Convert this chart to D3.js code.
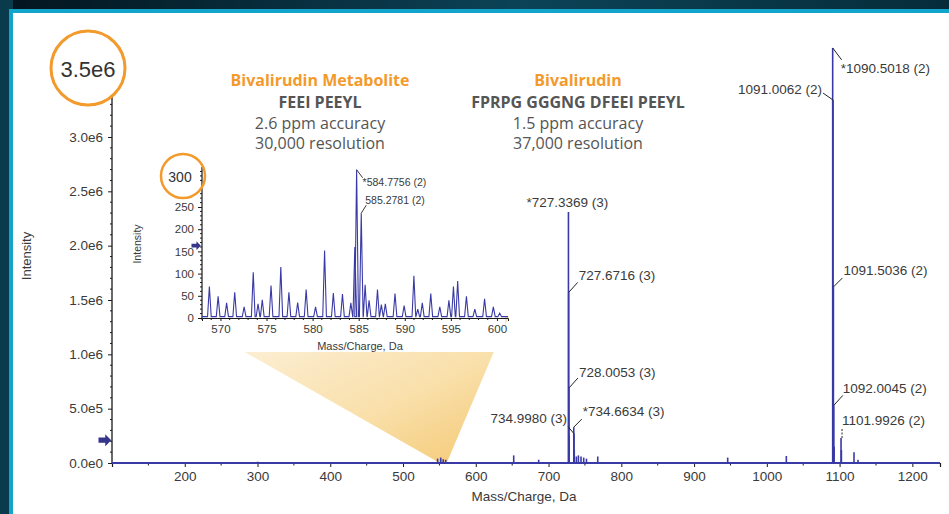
<!DOCTYPE html>
<html>
<head>
<meta charset="utf-8">
<script src="https://cdn.jsdelivr.net/npm/d3@7"></script>
<style>
  html, body { margin: 0; padding: 0; background: #ffffff; overflow: hidden; }
  svg { display: block; }
</style>
</head>
<body>
<svg id="chart" width="949" height="514"></svg>
<script>
// ---- Main spectrum: bivalirudin (m/z, intensity) ----
const mainMz = [300.2, 547.5, 551.8, 555.2, 558.6, 652.1, 686.4, 727.3369, 727.6716, 728.0053, 728.34,
  734.6634, 734.9980, 735.33, 738.2, 741.0, 744.6, 748.3, 752.1, 767.6, 946.2, 1026.8,
  1090.5018, 1091.0062, 1091.5036, 1092.0045, 1092.50, 1101.9926, 1102.49, 1119.8, 1125.3];
const mainIntensity = [0.012e6, 0.04e6, 0.05e6, 0.035e6, 0.03e6, 0.07e6, 0.03e6, 2.31e6, 1.57e6, 0.69e6, 0.25e6,
  0.33e6, 0.27e6, 0.12e6, 0.06e6, 0.07e6, 0.06e6, 0.05e6, 0.04e6, 0.06e6, 0.05e6, 0.065e6,
  3.82e6, 3.34e6, 1.62e6, 0.53e6, 0.15e6, 0.23e6, 0.12e6, 0.10e6, 0.03e6];

// ---- Inset spectrum: bivalirudin metabolite, 568–601 Da ----
const insetMz = [568.8, 569.75, 570.67, 571.55, 572.57, 573.56, 574.08, 574.54, 575.49, 576.55,
  577.43, 578.38, 579.30, 580.32, 581.30, 582.25, 583.24, 584.15, 584.58, 584.7756, 585.2781,
  585.70, 586.13, 587.04, 587.46, 587.89, 588.94, 589.93, 590.99, 591.41, 591.90, 592.82,
  593.80, 594.79, 595.28, 595.74, 596.69, 597.60, 598.66, 599.61, 600.30];
const insetIntensity = [71, 49, 34, 58, 25, 103, 32, 41, 73, 115,
  58, 35, 64, 25, 152, 56, 54, 34, 160, 334, 236,
  75, 40, 64, 30, 32, 55, 28, 95, 20, 34, 55,
  25, 40, 71, 83, 49, 20, 43, 25, 11];

// ---- Axis ticks ----
const xTicks = [200, 300, 400, 500, 600, 700, 800, 900, 1000, 1100, 1200];
const yTicks = [0, 5e5, 1e6, 1.5e6, 2e6, 2.5e6, 3e6];
const yTickLabels = ["0.0e0", "5.0e5", "1.0e6", "1.5e6", "2.0e6", "2.5e6", "3.0e6"];
const yMaxLabel = "3.5e6";
const insetXTicks = [570, 575, 580, 585, 590, 595, 600];
const insetYTicks = [0, 50, 100, 150, 200, 250];
const insetMaxLabel = "300";

// ---- Peak annotations (text from m/z and charge) ----
const mainLabelMz = [727.3369, 727.6716, 728.0053, 734.6634, 734.9980, 1090.5018, 1091.0062, 1091.5036, 1092.0045, 1101.9926];
const mainLabelCharge = [3, 3, 3, 3, 3, 2, 2, 2, 2, 2];
const mainLabelStar = [true, false, false, true, false, true, false, false, false, false];
const insetLabelMz = [584.7756, 585.2781];
const insetLabelCharge = [2, 2];
const insetLabelStar = [true, false];

// ---- Header text ----
const headers = [
  { name: "Bivalirudin Metabolite", seq: "FEEI PEEYL", acc: "2.6 ppm accuracy", res: "30,000 resolution" },
  { name: "Bivalirudin", seq: "FPRPG GGGNG DFEEI PEEYL", acc: "1.5 ppm accuracy", res: "37,000 resolution" }
];

const W = 949, H = 514;
const svg = d3.select("#chart");
const BLUE = "#3a3aa6", ORANGE = "#f39a2c", AXIS = "#1a1a1a", TXT = "#3a3a3a";
const SANS = "'Liberation Sans', Arial, sans-serif";
const HEAD = "'Open Sans', 'Noto Sans', sans-serif";

// ---- Frame: dark backdrop, cyan rule, white panel ----
const defs = svg.append("defs");
const bg = defs.append("linearGradient").attr("id", "bg").attr("x1", 0).attr("x2", 1).attr("y1", 0).attr("y2", 0);
bg.append("stop").attr("offset", "0%").attr("stop-color", "#03141e");
bg.append("stop").attr("offset", "55%").attr("stop-color", "#0c4357");
bg.append("stop").attr("offset", "100%").attr("stop-color", "#062c3a");
svg.append("rect").attr("width", W).attr("height", 13).attr("fill", "url(#bg)");
svg.append("rect").attr("x", 0).attr("y", 0).attr("width", 13).attr("height", H).attr("fill", "#0a3b4c");
svg.append("rect").attr("x", 9).attr("y", 9).attr("width", W).attr("height", H).attr("fill", "#13a4cc");
svg.append("rect").attr("x", 13).attr("y", 13).attr("width", W).attr("height", H).attr("fill", "#ffffff");

// ---- Main scales ----
const x = d3.scaleLinear().domain([100, 1238]).range([112, 940]);
const y = d3.scaleLinear().domain([0, 3e6]).range([463, 137]);
const yTop = 97;

// ---- Zoom cone from the metabolite cluster up to the inset ----
const cone = defs.append("linearGradient").attr("id", "cone").attr("x1", 0).attr("y1", 0).attr("x2", 1).attr("y2", 1);
cone.append("stop").attr("offset", "0%").attr("stop-color", "#fdf4e2");
cone.append("stop").attr("offset", "60%").attr("stop-color", "#f9dea6");
cone.append("stop").attr("offset", "100%").attr("stop-color", "#f4c56a");
const coneLo = 550.5, coneHi = 560.0;
svg.append("path")
  .attr("d", `M206,330 L509,316 L${x(coneHi)},${y(0)} L${x(coneLo)},${y(0)} Z`)
  .attr("fill", "url(#cone)").attr("opacity", 0.95);

// ---- Main axes ----
const gx = svg.append("g").attr("transform", `translate(0,${y(0)})`)
  .call(d3.axisBottom(x).tickValues(xTicks).tickFormat(d3.format("d")).tickSize(4).tickPadding(4));
gx.select(".domain").attr("stroke", AXIS).attr("stroke-width", 1.2);
gx.selectAll(".tick line").attr("stroke", AXIS);
gx.selectAll(".tick text").attr("font-family", SANS).attr("font-size", 13.5).attr("fill", TXT);
// minor x ticks
svg.append("g").selectAll("line").data(d3.range(150, 1240, 50).filter(v => v % 100 !== 0)).join("line")
  .attr("x1", d => x(d)).attr("x2", d => x(d)).attr("y1", y(0)).attr("y2", y(0) + 2.5)
  .attr("stroke", AXIS).attr("stroke-width", 1);

const gy = svg.append("g").attr("transform", `translate(${x.range()[0]},0)`)
  .call(d3.axisLeft(y).tickValues(yTicks).tickFormat((d, i) => yTickLabels[i]).tickSize(4).tickPadding(5));
gy.select(".domain").remove();
gy.selectAll(".tick line").attr("stroke", AXIS);
gy.selectAll(".tick text").attr("font-family", SANS).attr("font-size", 13.5).attr("fill", TXT);
svg.append("line").attr("x1", x.range()[0]).attr("x2", x.range()[0]).attr("y1", yTop).attr("y2", y(0))
  .attr("stroke", AXIS).attr("stroke-width", 1.3);
// minor y ticks
svg.append("g").selectAll("line").data(d3.range(1e5, 3.35e6, 1e5).filter(v => Math.round(v / 1e5) % 5 !== 0)).join("line")
  .attr("x1", x.range()[0] - 2).attr("x2", x.range()[0]).attr("y1", d => y(d)).attr("y2", d => y(d))
  .attr("stroke", AXIS).attr("stroke-width", 1);

svg.append("text").attr("x", 524).attr("y", 501).attr("text-anchor", "middle")
  .attr("font-family", SANS).attr("font-size", 13.5).attr("fill", TXT).text("Mass/Charge, Da");
svg.append("text").attr("transform", "translate(31,256) rotate(-90)").attr("text-anchor", "middle")
  .attr("font-family", SANS).attr("font-size", 13).attr("fill", TXT).text("Intensity");

// threshold marker on the main axis
const arrow = (cx, cy, s) => `M${cx - s},${cy - s * 0.35} L${cx - s * 0.1},${cy - s * 0.35} L${cx - s * 0.1},${cy - s * 0.8} L${cx + s * 0.7},${cy} L${cx - s * 0.1},${cy + s * 0.8} L${cx - s * 0.1},${cy + s * 0.35} L${cx - s},${cy + s * 0.35} Z`;
svg.append("path").attr("d", arrow(106, y(2.1e5), 7.5)).attr("fill", "#35358a");

// ---- Main spectrum sticks ----
const mainData = mainMz.map((m, i) => ({ mz: m, v: mainIntensity[i] }));
svg.append("line").attr("x1", x.range()[0]).attr("x2", x.range()[1]).attr("y1", y(0)).attr("y2", y(0))
  .attr("stroke", BLUE).attr("stroke-width", 2);
svg.append("g").selectAll("line").data(mainData).join("line")
  .attr("x1", d => x(d.mz)).attr("x2", d => x(d.mz))
  .attr("y1", y(0)).attr("y2", d => y(d.v))
  .attr("stroke", BLUE).attr("stroke-width", 1.6);

// ---- Main peak labels ----
// layout per label: leader end (lx, ly), text anchor point (tx, ty), anchor, dashed leader
const mainLayout = [
  { lx: 0, ly: 0, tx: -1, ty: -10, anchor: "middle" },
  { lx: 9, ly: -10, tx: 10, ty: -17, anchor: "start" },
  { lx: 9, ly: -10, tx: 10, ty: -16, anchor: "start" },
  { lx: 8, ly: -8, tx: 9, ty: -16, anchor: "start" },
  { lx: -6, ly: -7, tx: -7, ty: -15, anchor: "end" },
  { lx: 9, ly: 12, tx: 8, ty: 20, anchor: "start" },
  { lx: -10, ly: -7, tx: -11, ty: -11, anchor: "end" },
  { lx: 9, ly: -9, tx: 10, ty: -17, anchor: "start" },
  { lx: 9, ly: -10, tx: 9, ty: -17, anchor: "start" },
  { lx: 1, ly: -10, tx: 1, ty: -18, anchor: "start", dash: true }
];
const mainLabels = svg.append("g");
mainLabelMz.forEach((m, i) => {
  const v = mainIntensity[mainMz.indexOf(m)];
  const px = x(m), py = y(v), L = mainLayout[i];
  if (L.lx !== 0 || L.ly !== 0) {
    mainLabels.append("line").attr("x1", px + (L.dash ? L.lx : 0)).attr("y1", py)
      .attr("x2", px + L.lx).attr("y2", py + L.ly)
      .attr("stroke", "#222").attr("stroke-width", 1).attr("stroke-dasharray", L.dash ? "2,1.5" : null);
  }
  mainLabels.append("text").attr("x", px + L.tx).attr("y", py + L.ty).attr("dy", "0.35em")
    .attr("text-anchor", L.anchor).attr("font-family", SANS).attr("font-size", 13.5).attr("fill", TXT)
    .text((mainLabelStar[i] ? "*" : "") + m.toFixed(4) + " (" + mainLabelCharge[i] + ")");
});

// ---- Y max label with highlight ring ----
svg.append("text").attr("x", 88).attr("y", 69).attr("dy", "0.35em").attr("text-anchor", "middle")
  .attr("font-family", SANS).attr("font-size", 22).attr("fill", "#333").text(yMaxLabel);
svg.append("circle").attr("cx", 88).attr("cy", 68).attr("r", 37)
  .attr("fill", "none").attr("stroke", ORANGE).attr("stroke-width", 3);

// ---- Header text ----
const headX = [320, 578];
headers.forEach((h, i) => {
  const g = svg.append("g").attr("text-anchor", "middle").attr("font-family", HEAD);
  g.append("text").attr("x", headX[i]).attr("y", 86).attr("font-size", 16).attr("font-weight", 700).attr("fill", ORANGE).text(h.name);
  g.append("text").attr("x", headX[i]).attr("y", 108).attr("font-size", 16).attr("font-weight", 700).attr("fill", "#555").text(h.seq);
  g.append("text").attr("x", headX[i]).attr("y", 129).attr("font-size", 16).attr("fill", "#555").text(h.acc);
  g.append("text").attr("x", headX[i]).attr("y", 149).attr("font-size", 16).attr("fill", "#555").text(h.res);
});

// ---- Inset chart ----
const inset = svg.append("g");
inset.append("rect").attr("x", 124).attr("y", 160).attr("width", 381).attr("height", 192).attr("fill", "#ffffff");
const xi = d3.scaleLinear().domain([568, 601.2]).range([202, 508]);
const yi = d3.scaleLinear().domain([0, 250]).range([318, 207]);
const yiTop = 167;

const gxi = inset.append("g").attr("transform", `translate(0,${yi(0)})`)
  .call(d3.axisBottom(xi).tickValues(insetXTicks).tickFormat(d3.format("d")).tickSize(3).tickPadding(4));
gxi.select(".domain").attr("stroke", AXIS);
gxi.selectAll(".tick line").attr("stroke", AXIS);
gxi.selectAll(".tick text").attr("font-family", SANS).attr("font-size", 11.5).attr("fill", TXT);
inset.append("g").selectAll("line").data(d3.range(568, 601, 1).filter(v => v % 5 !== 0)).join("line")
  .attr("x1", d => xi(d)).attr("x2", d => xi(d)).attr("y1", yi(0)).attr("y2", yi(0) + 2)
  .attr("stroke", AXIS);

const gyi = inset.append("g").attr("transform", `translate(${xi.range()[0]},0)`)
  .call(d3.axisLeft(yi).tickValues(insetYTicks).tickSize(4).tickPadding(4));
gyi.select(".domain").remove();
gyi.selectAll(".tick line").attr("stroke", AXIS);
gyi.selectAll(".tick text").attr("font-family", SANS).attr("font-size", 11.5).attr("fill", TXT);
inset.append("line").attr("x1", xi.range()[0]).attr("x2", xi.range()[0]).attr("y1", yiTop).attr("y2", yi(0))
  .attr("stroke", AXIS).attr("stroke-width", 1.2);
inset.append("g").selectAll("line").data(d3.range(10, 340, 10).filter(v => v % 50 !== 0)).join("line")
  .attr("x1", xi.range()[0] - 2).attr("x2", xi.range()[0]).attr("y1", d => yi(d)).attr("y2", d => yi(d))
  .attr("stroke", AXIS);

inset.append("text").attr("x", 360).attr("y", 350).attr("text-anchor", "middle")
  .attr("font-family", SANS).attr("font-size", 11).attr("fill", TXT).text("Mass/Charge, Da");
inset.append("text").attr("transform", "translate(141,244) rotate(-90)").attr("text-anchor", "middle")
  .attr("font-family", SANS).attr("font-size", 10.5).attr("fill", TXT).text("Intensity");
inset.append("path").attr("d", arrow(197, yi(163), 5.5)).attr("fill", "#35358a");

// profile trace: each centroid drawn as a narrow peak on the baseline
const base = 3, halfW = 0.2;
const profile = [[xi.domain()[0], base]];
insetMz.forEach((m, i) => {
  profile.push([m - halfW, base], [m, insetIntensity[i]], [m + halfW, base]);
});
profile.push([xi.domain()[1], base]);
inset.append("path").datum(profile)
  .attr("d", d3.line().x(d => xi(d[0])).y(d => yi(d[1])))
  .attr("fill", "none").attr("stroke", BLUE).attr("stroke-width", 1.1);

const insetLayout = [
  { lx: 6, ly: 8, tx: 6, ty: 13 },
  { lx: 5, ly: -8, tx: 4, ty: -13 }
];
insetLabelMz.forEach((m, i) => {
  const v = insetIntensity[insetMz.indexOf(m)];
  const px = xi(m), py = yi(v), L = insetLayout[i];
  inset.append("line").attr("x1", px).attr("y1", py).attr("x2", px + L.lx).attr("y2", py + L.ly)
    .attr("stroke", "#222").attr("stroke-width", 0.9);
  inset.append("text").attr("x", px + L.tx).attr("y", py + L.ty).attr("dy", "0.35em")
    .attr("font-family", SANS).attr("font-size", 10.5).attr("fill", TXT)
    .text((insetLabelStar[i] ? "*" : "") + m.toFixed(4) + " (" + insetLabelCharge[i] + ")");
});

inset.append("text").attr("x", 180).attr("y", 177).attr("dy", "0.35em").attr("text-anchor", "middle")
  .attr("font-family", SANS).attr("font-size", 14).attr("fill", "#333").text(insetMaxLabel);
inset.append("circle").attr("cx", 183).attr("cy", 176).attr("r", 22)
  .attr("fill", "none").attr("stroke", ORANGE).attr("stroke-width", 2.5);
</script>
</body>
</html>
